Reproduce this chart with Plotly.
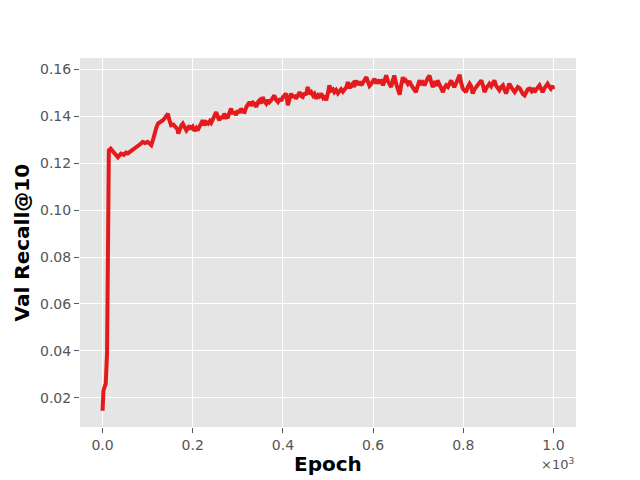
import plotly.graph_objects as go

epochs = [0, 2, 5, 7, 10, 14, 18, 23, 28, 34, 38, 41, 47, 52, 56, 62, 67, 72, 78, 84, 89, 94, 100,
          104, 108, 112, 115, 119, 123, 128, 134, 139, 145, 148, 152, 157, 163, 166, 168, 172, 175,
          178, 183, 186, 189, 193, 196, 200, 204, 208, 211, 215, 218, 222, 226, 230, 234, 238, 241,
          245, 249, 252, 256, 259, 263, 266, 270, 274, 278, 282, 285, 289, 292, 296, 300, 304, 307,
          311, 315, 319, 322, 326, 330, 334, 337, 341, 345, 348, 352, 355, 359, 363, 367, 370, 374,
          378, 381, 385, 389, 393, 396, 400, 404, 407, 411, 414, 418, 422, 425, 429, 433, 437, 441,
          444, 448, 451, 455, 459, 463, 467, 470, 474, 478, 481, 485, 489, 492, 496, 500, 503, 507,
          511, 514, 518, 522, 525, 529, 533, 537, 541, 544, 548, 551, 555, 558, 562, 566, 570, 574,
          578, 581, 585, 589, 592, 596, 600, 603, 607, 611, 614, 618, 622, 625, 629, 633, 636, 640,
          644, 647, 651, 655, 659, 662, 666, 670, 673, 677, 681, 684, 688, 692, 695, 699, 703, 707,
          710, 714, 718, 721, 725, 729, 732, 736, 740, 743, 747, 751, 755, 758, 762, 766, 770, 773,
          777, 780, 784, 788, 792, 795, 799, 803, 806, 810, 814, 817, 821, 825, 829, 833, 836, 840,
          844, 847, 851, 855, 858, 862, 866, 869, 873, 877, 880, 884, 888, 891, 895, 899, 902, 906,
          910, 914, 917, 921, 925, 929, 932, 936, 940, 943, 947, 951, 954, 958, 962, 965, 969, 973,
          976, 980, 984, 987, 991, 994, 997, 1000]

val_recall = [0.0145, 0.0230, 0.0250, 0.0258, 0.0390, 0.1255, 0.1262, 0.1252, 0.1240, 0.1225, 0.1235,
              0.1241, 0.1236, 0.1245, 0.1242, 0.1250, 0.1255, 0.1262, 0.1269, 0.1282, 0.1291, 0.1286,
              0.1291, 0.1283, 0.1277, 0.1300, 0.1326, 0.1350, 0.1369, 0.1375, 0.1383, 0.1395, 0.1411,
              0.1385, 0.1362, 0.1365, 0.1355, 0.1345, 0.1326, 0.1350, 0.1362, 0.1369, 0.1352, 0.1340,
              0.1348, 0.1360, 0.1345, 0.1355, 0.1338, 0.1350, 0.1340, 0.1355, 0.1372, 0.1383, 0.1362,
              0.1375, 0.1369, 0.1380, 0.1372, 0.1390, 0.1400, 0.1418, 0.1395, 0.1383, 0.1400, 0.1390,
              0.1411, 0.1395, 0.1397, 0.1420, 0.1433, 0.1410, 0.1420, 0.1405, 0.1425, 0.1415, 0.1433,
              0.1420, 0.1418, 0.1440, 0.1450, 0.1461, 0.1445, 0.1458, 0.1454, 0.1440, 0.1462, 0.1468,
              0.1455, 0.1482, 0.1465, 0.1454, 0.1470, 0.1460, 0.1468, 0.1480, 0.1489, 0.1470, 0.1461,
              0.1475, 0.1465, 0.1482, 0.1489, 0.1497, 0.1447, 0.1470, 0.1497, 0.1480, 0.1490, 0.1475,
              0.1488, 0.1503, 0.1485, 0.1482, 0.1500, 0.1490, 0.1525, 0.1495, 0.1503, 0.1488, 0.1495,
              0.1475, 0.1490, 0.1485, 0.1497, 0.1480, 0.1488, 0.1468, 0.1500, 0.1532, 0.1510, 0.1515,
              0.1503, 0.1512, 0.1498, 0.1503, 0.1515, 0.1505, 0.1518, 0.1525, 0.1546, 0.1520, 0.1532,
              0.1540, 0.1525, 0.1553, 0.1535, 0.1548, 0.1532, 0.1545, 0.1555, 0.1567, 0.1545, 0.1530,
              0.1539, 0.1550, 0.1560, 0.1540, 0.1555, 0.1546, 0.1550, 0.1532, 0.1555, 0.1574, 0.1550,
              0.1540, 0.1525, 0.1555, 0.1574, 0.1540, 0.1520, 0.1492, 0.1530, 0.1567, 0.1545, 0.1552,
              0.1539, 0.1550, 0.1535, 0.1525, 0.1515, 0.1503, 0.1530, 0.1553, 0.1540, 0.1545, 0.1532,
              0.1555, 0.1562, 0.1574, 0.1545, 0.1525, 0.1540, 0.1530, 0.1553, 0.1535, 0.1520, 0.1503,
              0.1520, 0.1532, 0.1525, 0.1545, 0.1553, 0.1535, 0.1525, 0.1540, 0.1560, 0.1577, 0.1545,
              0.1518, 0.1510, 0.1503, 0.1525, 0.1539, 0.1530, 0.1497, 0.1515, 0.1525, 0.1535, 0.1545,
              0.1553, 0.1530, 0.1503, 0.1520, 0.1530, 0.1539, 0.1528, 0.1545, 0.1553, 0.1530, 0.1520,
              0.1511, 0.1525, 0.1532, 0.1515, 0.1497, 0.1520, 0.1539, 0.1525, 0.1515, 0.1503, 0.1512,
              0.1525, 0.1520, 0.1505, 0.1495, 0.1489, 0.1505, 0.1515, 0.1518, 0.1508, 0.1520, 0.1503,
              0.1515, 0.1525, 0.1532, 0.1515, 0.1503, 0.1520, 0.1530, 0.1539, 0.1525, 0.1518, 0.1530,
              0.1515]

x_tick_vals = [0, 200, 400, 600, 800, 1000]
x_tick_text = ["0.0", "0.2", "0.4", "0.6", "0.8", "1.0"]
y_tick_vals = [0.02, 0.04, 0.06, 0.08, 0.10, 0.12, 0.14, 0.16]

fig = go.Figure()
fig.add_trace(go.Scatter(x=epochs, y=val_recall, mode="lines",
                         line=dict(color="#E41A1C", width=4), showlegend=False))

axis_common = dict(showgrid=True, gridcolor="white", gridwidth=1, zeroline=False,
                   ticks="outside", ticklen=5, tickwidth=1, tickcolor="#555555",
                   tickfont=dict(family="DejaVu Sans", size=14, color="#555555"),
                   showline=False)

fig.update_layout(
    width=640, height=480,
    margin=dict(l=80, r=64, t=58, b=53),
    paper_bgcolor="white", plot_bgcolor="#E5E5E5",
    xaxis=dict(range=[-50, 1050], tickvals=x_tick_vals, ticktext=x_tick_text, **axis_common),
    yaxis=dict(range=[0.00757, 0.16485], tickvals=y_tick_vals, tickformat=".2f", **axis_common),
    annotations=[
        dict(text="<b>Epoch</b>", xref="paper", yref="paper", x=0.5, y=-0.0995,
             yanchor="middle", xanchor="center", showarrow=False,
             font=dict(family="DejaVu Sans", size=20, color="black")),
        dict(text="<b>Val Recall@10</b>", xref="paper", yref="paper", x=-0.117, y=0.5,
             textangle=-90, xanchor="center", yanchor="middle", showarrow=False,
             font=dict(family="DejaVu Sans", size=20, color="black")),
        dict(text="×10<sup>3</sup>", xref="paper", yref="paper", x=1.0, y=-0.1,
             xanchor="right", yanchor="middle", showarrow=False,
             font=dict(family="DejaVu Sans", size=13, color="#555555")),
    ],
)

fig.write_html("out.html", config={"displayModeBar": False},
               post_script="document.body.style.margin='0';document.body.style.padding='0';")
